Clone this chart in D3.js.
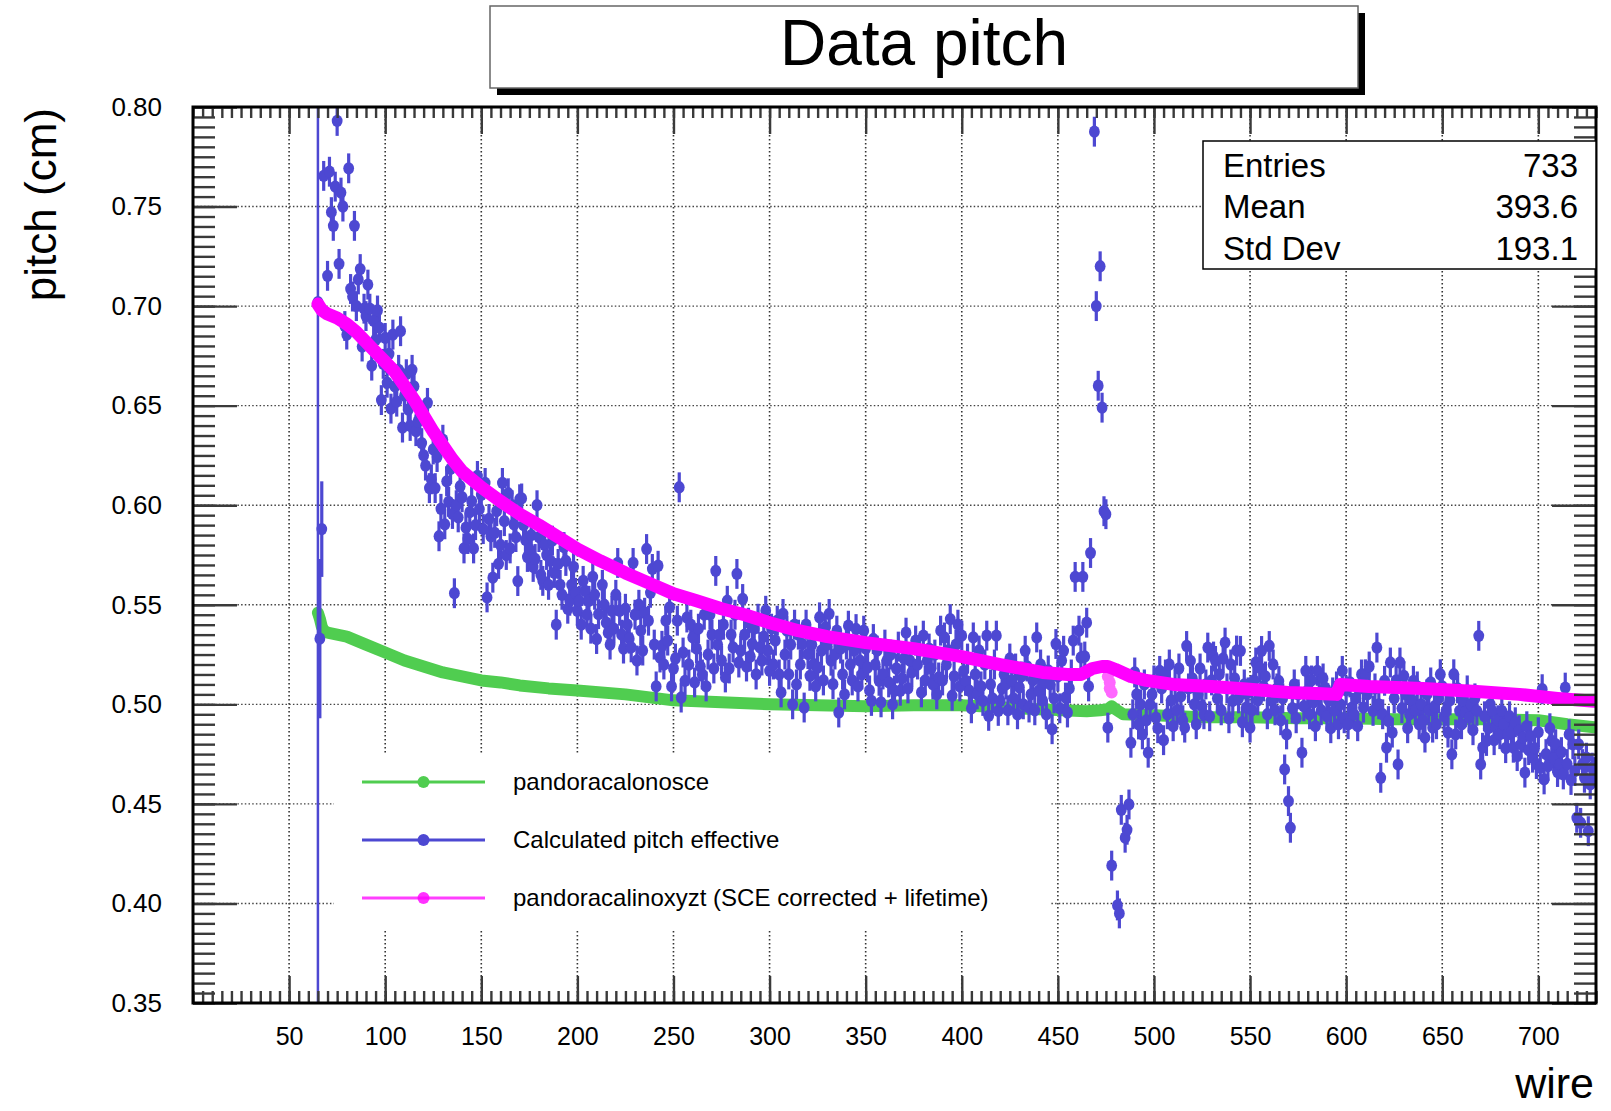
<!DOCTYPE html>
<html><head><meta charset="utf-8">
<script src="https://cdn.jsdelivr.net/npm/d3@7"></script>
<style>
html,body{margin:0;padding:0;background:#fff;}
svg{display:block;font-family:'Liberation Sans',Arial,Helvetica,sans-serif;}
</style></head><body>
<svg id="c" width="1611" height="1111"></svg>
<script>
const chartTitle = "Data pitch";
const xTitle = "wire";
const yTitle = "pitch (cm)";
const xTickValues = [50,100,150,200,250,300,350,400,450,500,550,600,650,700];
const xTickLabels = ["50","100","150","200","250","300","350","400","450","500","550","600","650","700"];
const yTickValues = [0.35,0.40,0.45,0.50,0.55,0.60,0.65,0.70,0.75,0.80];
const yTickLabels = ["0.35","0.40","0.45","0.50","0.55","0.60","0.65","0.70","0.75","0.80"];
const seriesNames = ["pandoracalonosce","Calculated pitch effective","pandoracalinoxyzt (SCE corrected + lifetime)"];
const seriesColors = ["#50cd50","#4d48d2","#ff00ff"];
const statsLabels = ["Entries","Mean","Std Dev"];
const statsValues = ["733","393.6","193.1"];

// pandoracalonosce (green)
const greenWire  = [65,66,67,68,70,80,90,100,110,120,130,140,150,160,170,185,200,225,250,275,300,325,350,375,400,420,440,465,472,476,478,480,484,500,525,550,575,600,625,650,675,700,715,729];
const greenPitch = [0.546,0.543,0.539,0.537,0.536,0.534,0.530,0.526,0.522,0.519,0.516,0.514,0.512,0.511,0.5095,0.508,0.507,0.505,0.502,0.501,0.500,0.4995,0.499,0.4995,0.4995,0.4985,0.4975,0.4965,0.497,0.4975,0.499,0.4975,0.495,0.4945,0.4935,0.4935,0.493,0.493,0.4925,0.4925,0.4925,0.492,0.490,0.4885];

// pandoracalinoxyzt (magenta)
const pinkWire  = [65,67,70,75,80,85,90,95,100,105,110,115,120,125,130,135,140,145,150,160,170,180,190,200,212,225,237,250,262,275,287,300,315,330,350,375,400,420,442,455,462,468,473,476,480,488,496,510,530,548,570,585,595,597,612,640,668,690,710,729];
const pinkPitch = [0.701,0.698,0.696,0.694,0.691,0.687,0.682,0.677,0.672,0.667,0.660,0.653,0.645,0.637,0.630,0.623,0.617,0.613,0.609,0.602,0.5955,0.590,0.584,0.578,0.572,0.566,0.561,0.5555,0.552,0.548,0.545,0.541,0.537,0.534,0.531,0.528,0.524,0.520,0.516,0.515,0.515,0.518,0.519,0.519,0.5175,0.514,0.512,0.510,0.509,0.5077,0.506,0.5055,0.505,0.510,0.509,0.508,0.5065,0.505,0.503,0.5015];
// magenta points that drop below the band near wire 477
const pinkDropWire  = [476,477,477,478];
const pinkDropPitch = [0.514,0.511,0.508,0.506];

// Calculated pitch effective (blue), [wire, pitch]
const calcPitch = [
[65,.702],[66,.533],[67,.588],[68,.7654],[70,.7152],[71,.7675],[72,.7472],[73,.7403],[74,.760],[75,.793],[76,.7212],[77,.757],[78,.750],[79,.690],[80,.6857],[81,.7692],[82,.7086],[83,.7048],[84,.7403],[85,.700],[86,.7134],[87,.7186],[88,.6797],[89,.6987],[90,.695],[91,.7108],[92,.6987],[93,.6701],[94,.6926],[95,.683],[96,.6978],[97,.6892],[98,.6528],[99,.671],[100,.684],[101,.6615],[102,.676],[103,.6485],[104,.6857],[105,.6597],[106,.652],[107,.668],[108,.6874],[109,.639],[110,.655],[111,.6658],[112,.648],[113,.6398],[114,.668],[115,.6597],[116,.6372],[117,.642],[118,.645],[119,.6312],[120,.625],[121,.6199],[122,.6514],[123,.6086],[124,.613],[125,.628],[126,.6086],[127,.6242],[128,.5844],[129,.5982],[130,.6329],[131,.5904],[132,.612],[133,.6017],[134,.6182],[135,.5956],[136,.5558],[137,.600],[138,.5939],[139,.6095],[140,.604],[141,.5783],[142,.5887],[143,.583],[144,.5965],[145,.602],[146,.5783],[147,.590],[148,.6147],[149,.598],[150,.6052],[151,.588],[152,.6112],[153,.5537],[154,.5931],[155,.5844],[156,.5636],[157,.5861],[158,.597],[159,.5705],[160,.580],[161,.6112],[162,.592],[163,.575],[164,.6060],[165,.5783],[166,.600],[167,.5904],[168,.584],[169,.5619],[170,.603],[171,.6034],[172,.590],[173,.5826],
[174,.574],[175,.578],[176,.585],[177,.569],[178,.573],[179,.600],[180,.584],[181,.565],[182,.562],[183,.580],[184,.575],[185,.560],[186,.572],[187,.5822],[188,.566],[189,.540],[190,.5705],[191,.560],[192,.555],[193,.579],[194,.572],[195,.548],[196,.552],[197,.560],[198,.569],[199,.556],[200,.547],[201,.552],[202,.540],[203,.562],[204,.557],[205,.545],[206,.552],[207,.538],[208,.564],[209,.555],[210,.5328],[211,.5453],[213,.560],[214,.550],[215,.541],[216,.536],[217,.530],[218,.547],[219,.538],[220,.555],[221,.571],[222,.547],[223,.535],[224,.528],[225,.548],[226,.540],[227,.533],[228,.5286],[229,.571],[230,.545],[231,.522],[232,.550],[233,.537],[234,.527],[235,.546],[236,.578],[237,.542],[238,.556],[239,.568],[240,.530],[241,.509],[242,.5696],[243,.5235],[244,.5294],[245,.520],[246,.542],[247,.532],[248,.5487],[249,.509],[250,.518],[251,.523],[252,.542],[253,.609],[254,.5034],[255,.526],[256,.5118],[257,.5436],[258,.520],[259,.540],[260,.5336],[261,.511],[262,.528],[263,.538],[264,.519],[265,.515],[266,.545],[267,.509],[268,.525],[269,.545],[270,.535],[271,.518],[272,.567],[273,.530],[274,.535],[275,.522],[276,.540],[277,.5135],[278,.552],[279,.518],[280,.535],[281,.5286],[282,.545],[283,.5655],[284,.521],[285,.527],[286,.5529],[287,.535],[288,.519],[289,.541],[290,.524],[291,.5303],[292,.538],[293,.515],[294,.543],[295,.5286],[296,.522],[297,.534],[298,.547],[299,.527],[300,.5168],[301,.538],[302,.520],[303,.532],[304,.542],[305,.515],[306,.506],[307,.5454],[308,.525],[309,.537],[310,.515],[311,.530],[312,.500],[313,.540],[314,.510],[315,.535],[316,.520],[317,.5302],[318,.4984],[319,.540],
[320,.5252],[321,.5143],[322,.530],[323,.5202],[324,.509],[325,.5185],[326,.5437],[327,.527],[328,.512],[329,.5387],[330,.530],[331,.5454],[332,.5219],[333,.5101],[334,.525],[335,.537],[336,.4959],[337,.528],[338,.515],[339,.505],[340,.530],[341,.5395],[342,.520],[343,.512],[344,.527],[345,.5378],[346,.509],[347,.522],[348,.515],[349,.537],[350,.528],[351,.5185],[352,.507],[353,.5017],[354,.5328],[355,.520],[356,.527],[357,.5118],[358,.501],[359,.515],[360,.530],[361,.522],[362,.511],[363,.525],[364,.500],[365,.5068],[366,.518],[367,.529],[368,.5068],[369,.513],[370,.523],[371,.536],[372,.508],[373,.522],[374,.516],[376,.532],[377,.520],[378,.527],[379,.506],[380,.5345],[381,.512],[382,.522],[383,.528],[384,.518],[385,.510],[386,.525],[387,.505],[388,.5135],[389,.537],[390,.512],[391,.5336],[392,.520],[393,.527],[394,.5428],[395,.5043],[396,.514],[397,.530],[398,.540],[399,.509],[400,.5345],[401,.5168],[402,.5118],[403,.523],[404,.5068],[405,.498],[406,.5336],[407,.515],[408,.505],[409,.527],[410,.509],[411,.5017],[412,.520],[413,.5345],[414,.4942],[415,.510],[416,.503],[417,.520],[418,.5345],[419,.4967],[420,.5017],[421,.508],[422,.515],[423,.510],[424,.497],[425,.523],[426,.512],[427,.503],[428,.518],[429,.495],[430,.5085],[431,.514],[432,.500],[433,.5269],[434,.519],[435,.4984],[436,.505],[437,.512],[438,.497],[439,.5336],[440,.5068],[441,.520],[442,.502],[443,.511],[444,.495],[445,.517],[446,.510],[447,.4875],[448,.503],[449,.5303],[450,.514],[451,.498],[452,.522],[453,.5269],[454,.5034],[455,.4959],[456,.508],[457,.515],[458,.532],[459,.564],[461,.537],[462,.5235],[463,.564],[464,.524],[465,.541],[466,.509],[467,.576],[469,.7876],[470,.70],[471,.66],[472,.72],[473,.649],[474,.597],[475,.5955],[476,.4883],[478,.419],[481,.399],[482,.395],[483,.447],[485,.433],[486,.437],[487,.4497],
[488,.4807],[489,.495],[490,.516],[491,.505],[492,.4899],[493,.500],[494,.4849],[495,.510],[496,.492],[497,.4757],[498,.500],[499,.505],[500,.512],[501,.4933],[502,.488],[503,.5168],[504,.508],[505,.482],[506,.515],[507,.495],[508,.520],[509,.502],[510,.489],[511,.510],[512,.497],[513,.518],[514,.504],[515,.492],[516,.4883],[517,.5293],[518,.508],[519,.5218],[520,.513],[521,.500],[522,.490],[523,.505],[524,.518],[525,.499],[526,.495],[527,.510],[528,.5285],[529,.494],[530,.512],[531,.524],[532,.5218],[533,.503],[534,.515],[535,.497],[536,.523],[537,.531],[538,.508],[539,.493],[540,.520],[541,.5017],[542,.513],[543,.527],[544,.503],[545,.5268],[546,.491],[547,.510],[548,.4983],[549,.506],[550,.4883],[551,.497],[552,.512],[553,.521],[554,.502],[555,.5184],[556,.5268],[557,.509],[558,.514],[559,.495],[560,.5293],[561,.502],[562,.520],[563,.497],[564,.508],[565,.5117],[566,.492],[567,.503],[568,.4673],[569,.4849],[570,.4514],[571,.438],[572,.498],[573,.510],[574,.493],[575,.505],[577,.4757],[578,.499],[579,.5168],[580,.507],[581,.495],[582,.512],[583,.501],[584,.489],[585,.5168],[586,.505],[587,.497],[588,.513],[589,.5084],[590,.494],[591,.502],[592,.488],[593,.506],[594,.497],[595,.509],[596,.490],[597,.500],[598,.5168],[599,.493],[600,.507],[601,.490],[602,.511],[603,.4983],[604,.495],[605,.503],[606,.489],[607,.508],[608,.515],
[609,.4983],[610,.5151],[611,.505],[612,.519],[614,.4967],[615,.508],[616,.5285],[617,.500],[618,.4631],[619,.495],[620,.5118],[621,.4782],[622,.4916],[623,.521],[624,.4858],[625,.503],[626,.512],[627,.4698],[628,.521],[629,.498],[630,.5143],[631,.505],[632,.488],[633,.495],[634,.502],[635,.5118],[636,.497],[637,.509],[638,.490],[639,.500],[640,.492],[641,.4833],[642,.505],[643,.497],[644,.511],[645,.4883],[646,.499],[647,.490],[648,.503],[649,.5151],[650,.509],[651,.494],[652,.4967],[653,.4858],[654,.502],[655,.4749],[656,.5151],[657,.4849],[658,.508],[659,.4967],[660,.490],[661,.502],[662,.496],[663,.507],[664,.4933],[665,.500],[666,.487],[667,.503],[668,.4967],[669,.5344],[670,.4698],[671,.4782],[672,.494],[673,.4816],[674,.488],[675,.500],[676,.4967],[677,.482],[678,.4883],[679,.492],[680,.485],[681,.4967],[682,.490],[683,.478],[684,.4849],[685,.494],[686,.486],[687,.4782],[688,.491],[689,.474],[690,.487],[691,.480],[692,.4833],[693,.4657],[694,.489],[695,.477],[696,.484],[697,.4732],[698,.478],[699,.470],[700,.486],[701,.4682],[702,.5076],[703,.4623],[704,.475],[705,.469],[706,.488],[707,.4816],[708,.473],[709,.480],[710,.466],[711,.4698],[712,.476],[713,.4648],[714,.5084],[715,.470],[716,.4849],[717,.462],[718,.4799],[719,.4665],[720,.443],[721,.4799],[722,.4405],[723,.470],[724,.4631],[725,.4732],[726,.4363],[727,.4598],[728,.4682],[729,.466]
];
const calcErrDefault = 0.0075;
const calcErrSpecial = {65:0.45, 66:0.040, 67:0.024};

const svg = d3.select("#c");
const L = 193, R = 1596, T = 107, B = 1003;
const x = d3.scaleLinear().domain([0, 730]).range([L, R]);
const y = d3.scaleLinear().domain([0.35, 0.80]).range([B, T]);

svg.append("rect").attr("width", 1611).attr("height", 1111).attr("fill", "#fff");

// grid
const grid = svg.append("g");
grid.selectAll("line.gv").data(xTickValues).join("line").attr("class","gv")
  .attr("x1", d => x(d)).attr("x2", d => x(d)).attr("y1", T).attr("y2", B)
  .attr("stroke", "#333").attr("stroke-width", 1.6).attr("stroke-dasharray", "1.6,2.4");
grid.selectAll("line.gh").data(yTickValues.slice(1, -1)).join("line").attr("class","gh")
  .attr("x1", L).attr("x2", R).attr("y1", d => y(d)).attr("y2", d => y(d))
  .attr("stroke", "#444").attr("stroke-width", 1.4).attr("stroke-dasharray", "1.5,2.2");

// clip
svg.append("clipPath").attr("id", "clip").append("rect")
  .attr("x", L).attr("y", T).attr("width", R - L).attr("height", B - T);
const plot = svg.append("g").attr("clip-path", "url(#clip)");

const line = d3.line().x(d => x(d[0])).y(d => y(d[1])).curve(d3.curveLinear);

// green band
const greenData = greenWire.map((w, i) => [w, greenPitch[i]]);
plot.append("path").datum(greenData).attr("d", line).attr("fill", "none")
  .attr("stroke", seriesColors[0]).attr("stroke-width", 12)
  .attr("stroke-linecap", "round").attr("stroke-linejoin", "round");

// blue points with error bars
const blueG = plot.append("g");
blueG.selectAll("line").data(calcPitch).join("line")
  .attr("x1", d => x(d[0])).attr("x2", d => x(d[0]))
  .attr("y1", d => y(d[1] + (calcErrSpecial[d[0]] || calcErrDefault)))
  .attr("y2", d => y(d[1] - (calcErrSpecial[d[0]] || calcErrDefault)))
  .attr("stroke", seriesColors[1]).attr("stroke-width", d => d[0] === 65 ? 2.5 : 3.2);
blueG.selectAll("ellipse").data(calcPitch).join("ellipse")
  .attr("cx", d => x(d[0])).attr("cy", d => y(d[1])).attr("rx", 5.4).attr("ry", 6.2)
  .attr("fill", seriesColors[1]);

// magenta band
const pinkData = pinkWire.map((w, i) => [w, pinkPitch[i]]);
plot.append("g").selectAll("circle").data(pinkDropWire.map((w, i) => [w, pinkDropPitch[i]]))
  .join("circle").attr("cx", d => x(d[0])).attr("cy", d => y(d[1])).attr("r", 6)
  .attr("fill", "#ff66ff");
plot.append("path").datum(pinkData).attr("d", line).attr("fill", "none")
  .attr("stroke", seriesColors[2]).attr("stroke-width", 13)
  .attr("stroke-linecap", "round").attr("stroke-linejoin", "round");

// ticks
function ticks(gen, tx, ty, vals, size) {
  const g = svg.append("g").attr("transform", `translate(${tx},${ty})`)
    .call(gen.tickValues(vals).tickSize(size).tickFormat(""));
  g.select(".domain").remove();
  g.selectAll("line").attr("stroke", "#3a3a3a").attr("stroke-width", 2.4);
  return g;
}
const xMinor = d3.range(0, 731, 5);
const yMinor = d3.range(0, 91).map(i => 0.35 + i * 0.005);
ticks(d3.axisBottom(x), 0, B, xMinor, -12);
ticks(d3.axisBottom(x), 0, B, xTickValues, -27);
ticks(d3.axisTop(x), 0, T, xMinor, -11);
ticks(d3.axisTop(x), 0, T, xTickValues, -27);
ticks(d3.axisLeft(y), L, 0, yMinor, -22);
ticks(d3.axisLeft(y), L, 0, yTickValues, -44);
ticks(d3.axisRight(y), R, 0, yMinor, -22);
ticks(d3.axisRight(y), R, 0, yTickValues, -44);

// labels
const xl = svg.append("g").attr("transform", `translate(0,${B})`)
  .call(d3.axisBottom(x).tickValues(xTickValues).tickSize(0).tickPadding(24)
    .tickFormat((d, i) => xTickLabels[i]));
xl.select(".domain").remove();
xl.selectAll("text").attr("font-size", 25).attr("fill", "#000")
  .attr("font-family", "'Liberation Sans',Arial,sans-serif");
const yl = svg.append("g").attr("transform", `translate(${L},0)`)
  .call(d3.axisLeft(y).tickValues(yTickValues).tickSize(0).tickPadding(31)
    .tickFormat((d, i) => yTickLabels[i]));
yl.select(".domain").remove();
yl.selectAll("text").attr("font-size", 26).attr("fill", "#000")
  .attr("font-family", "'Liberation Sans',Arial,sans-serif");

// frame
svg.append("rect").attr("x", L).attr("y", T).attr("width", R - L).attr("height", B - T)
  .attr("fill", "none").attr("stroke", "#000").attr("stroke-width", 3);

// axis titles
svg.append("text").attr("transform", "translate(56,108) rotate(-90)")
  .attr("text-anchor", "end").attr("font-size", 44).text(yTitle);
svg.append("text").attr("x", 1594).attr("y", 1098)
  .attr("text-anchor", "end").attr("font-size", 43).text(xTitle);

// legend
const lg = svg.append("g");
lg.append("rect").attr("x", 334).attr("y", 753).attr("width", 716).attr("height", 176).attr("fill", "#fff");
const legendRows = [782, 840, 898];
seriesNames.forEach((name, i) => {
  const ry = legendRows[i];
  lg.append("line").attr("x1", 362).attr("x2", 485).attr("y1", ry).attr("y2", ry)
    .attr("stroke", seriesColors[i]).attr("stroke-width", 3).attr("opacity", i === 2 ? 0.75 : 1);
  lg.append("circle").attr("cx", 423.5).attr("cy", ry).attr("r", 6)
    .attr("fill", seriesColors[i]).attr("opacity", i === 2 ? 0.8 : 1);
  lg.append("text").attr("x", 513).attr("y", ry + 8).attr("font-size", 24).text(name);
});

// stats box
const st = svg.append("g");
st.append("rect").attr("x", 1203).attr("y", 141).attr("width", 393).attr("height", 128)
  .attr("fill", "#fff").attr("stroke", "#000").attr("stroke-width", 1.5);
const statRows = [177, 218, 260];
statsLabels.forEach((s, i) => {
  st.append("text").attr("x", 1223).attr("y", statRows[i]).attr("font-size", 33).text(s);
  st.append("text").attr("x", 1578).attr("y", statRows[i]).attr("font-size", 33)
    .attr("text-anchor", "end").text(statsValues[i]);
});

// title
const tg = svg.append("g");
tg.append("rect").attr("x", 497).attr("y", 13).attr("width", 868).attr("height", 82).attr("fill", "#000");
tg.append("rect").attr("x", 490).attr("y", 6).attr("width", 868).attr("height", 82)
  .attr("fill", "#fff").attr("stroke", "#666").attr("stroke-width", 1.5);
tg.append("text").attr("x", 924).attr("y", 65).attr("text-anchor", "middle")
  .attr("font-size", 64).text(chartTitle);
</script>
</body></html>
